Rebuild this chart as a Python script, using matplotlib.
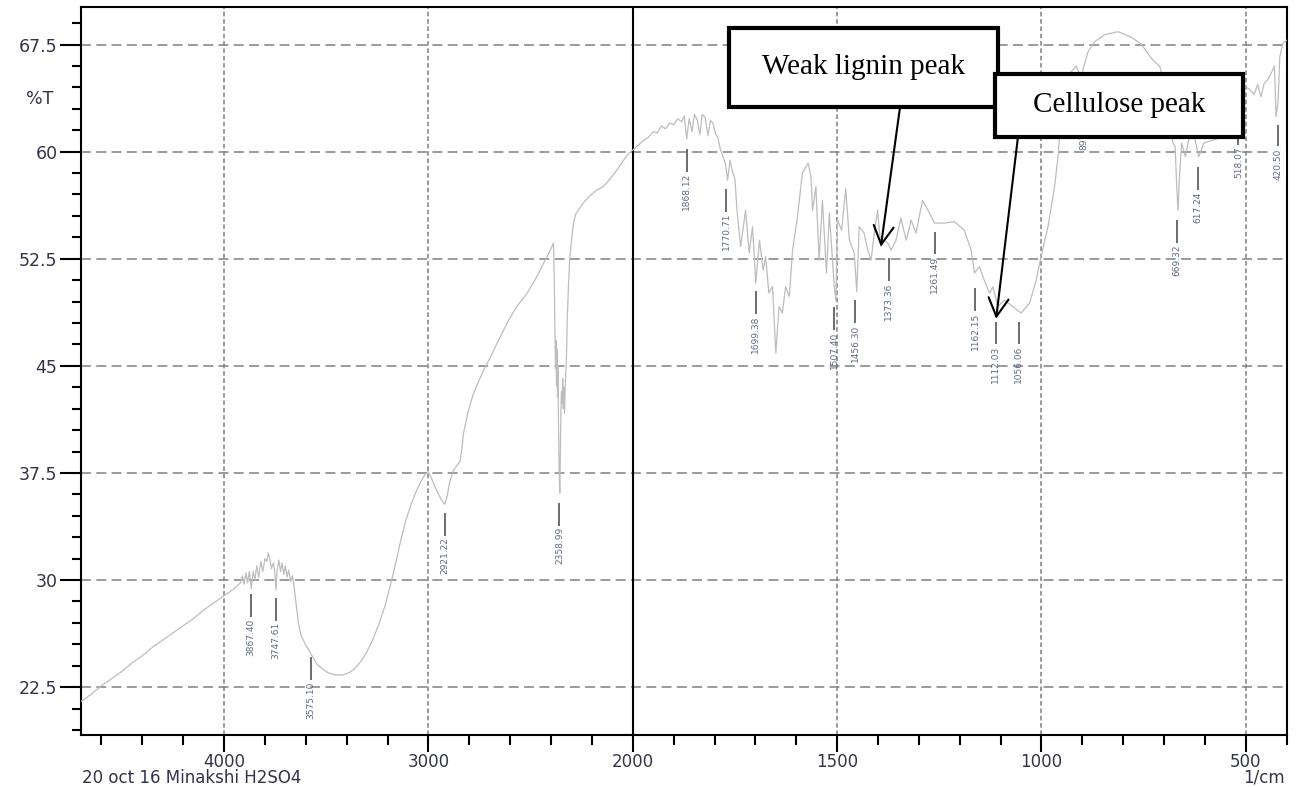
import numpy as np
import matplotlib.pyplot as plt
from matplotlib.patches import Rectangle
from matplotlib.transforms import blended_transform_factory

plt.rcParams['font.family'] = ['DejaVu Sans']

# FTIR trace: wavenumber (1/cm) and transmittance (%T)
wavenumber = [
    4700, 4650, 4600, 4550, 4500, 4450, 4400, 4350, 4300, 4250, 4200, 4150, 4100, 4050, 4000,
    3960, 3935, 3920, 3910, 3902, 3893, 3885, 3876, 3867, 3858, 3849, 3840, 3830, 3820, 3810,
    3800, 3790, 3784, 3776, 3768, 3758, 3752, 3746, 3740, 3732, 3724, 3716, 3708, 3700, 3692,
    3684, 3674, 3666, 3658, 3648, 3636, 3625, 3612, 3600, 3588, 3578, 3565, 3545, 3520, 3490,
    3455, 3420, 3390, 3360, 3330, 3300, 3270, 3240, 3210, 3185, 3160, 3135, 3110, 3085, 3060,
    3040, 3020, 3003, 2990, 2970, 2950, 2935, 2920, 2908, 2895, 2880, 2862, 2845, 2836, 2828,
    2812, 2796, 2776, 2755, 2730, 2700, 2660, 2615, 2570, 2517, 2475, 2436, 2410, 2388, 2384,
    2381, 2378, 2376, 2373, 2371, 2368, 2366, 2363, 2360, 2357, 2355, 2352, 2349, 2346, 2343,
    2340, 2337, 2334, 2330, 2325, 2320, 2315, 2308, 2300, 2290, 2280, 2262, 2243, 2210, 2178,
    2150, 2128, 2100, 2078, 2050, 2030, 2010, 1998, 1985, 1973, 1962, 1950, 1940, 1930, 1920,
    1910, 1900, 1890, 1880, 1874, 1868, 1862, 1855, 1849, 1842, 1836, 1830, 1823, 1816, 1810,
    1804, 1798, 1792, 1786, 1779, 1773, 1768, 1762, 1756, 1750, 1745, 1736, 1724, 1715, 1707,
    1699, 1690, 1681, 1675, 1667, 1658, 1650, 1642, 1634, 1626, 1617, 1609, 1597, 1585, 1571,
    1564, 1560, 1552, 1544, 1536, 1526, 1519, 1507, 1503, 1499, 1489, 1479, 1470, 1458, 1452,
    1446, 1434, 1425, 1417, 1409, 1401, 1393, 1385, 1376, 1368, 1356, 1344, 1331, 1319, 1307,
    1291, 1274, 1262, 1238, 1213, 1189, 1172, 1164, 1152, 1140, 1127, 1119, 1107, 1091, 1070,
    1050, 1029, 1013, 1001, 984, 968, 960, 955, 945, 935, 927, 915, 908, 903, 898,
    886, 870, 845, 812, 779, 755, 730, 710, 695, 685, 678, 673, 669, 666, 662,
    657, 648, 640, 628, 615, 603, 583, 550, 526, 518, 510, 504, 492, 480, 471,
    463, 455, 447, 438, 430, 426, 421, 417, 409, 400,
]
transmittance = [
    21.5, 22.0, 22.6, 23.1, 23.6, 24.2, 24.7, 25.3, 25.8, 26.3, 26.8, 27.3, 27.9, 28.4, 28.9,
    29.3, 29.6, 29.8, 30.3, 29.7, 30.5, 29.8, 30.6, 29.4, 30.6, 30.0, 31.0, 30.2, 31.3, 30.6,
    31.5, 31.3, 31.9, 31.5, 30.8, 31.2, 30.6, 29.3, 30.7, 31.4, 30.6, 31.2, 30.4, 31.0, 30.2,
    30.7, 29.9, 30.3, 29.6, 28.4, 27.0, 26.2, 25.8, 25.4, 25.2, 24.9, 24.6, 24.1, 23.8, 23.5,
    23.35, 23.35, 23.5, 23.8, 24.3, 25.0, 25.9, 27.0, 28.3, 29.7, 31.2, 32.8, 34.2, 35.3, 36.2,
    36.8, 37.3, 37.6, 37.3, 36.6, 36.0, 35.6, 35.3, 35.9, 36.9, 37.6, 38.0, 38.3, 39.2, 40.3,
    41.4, 42.3, 43.2, 43.9, 44.7, 45.5, 46.7, 48.0, 49.1, 50.1, 51.1, 52.2, 52.9, 53.6, 51.0,
    47.5, 44.8, 46.8, 43.6, 46.2, 42.8, 45.0, 40.5, 37.6, 36.1, 38.0, 41.5, 43.2, 42.4, 44.1,
    42.0, 43.5, 41.7, 43.9, 45.3, 48.5, 50.5, 52.6, 53.8, 55.0, 55.6, 56.0, 56.4, 56.9, 57.3,
    57.5, 57.8, 58.3, 58.7, 59.3, 59.7, 60.0, 60.15, 60.5, 60.8, 61.0, 61.4, 61.3, 61.8, 61.6,
    62.0, 61.9, 62.3, 62.1, 62.5, 60.9, 62.3, 61.4, 62.6, 62.2, 61.2, 62.6, 62.4, 61.1, 62.2,
    62.0, 61.3, 61.0, 60.2, 59.6, 59.1, 58.0, 59.4, 58.6, 58.1, 55.9, 53.35, 55.9, 52.9, 54.75,
    50.8, 53.8, 51.7, 52.65, 50.1, 50.55, 45.9, 49.15, 48.7, 50.55, 49.85, 53.1, 55.45, 58.5, 59.2,
    58.25, 55.9, 57.55, 52.4, 56.6, 51.5, 55.7, 50.55, 49.6, 55.2, 54.5, 57.4, 53.8, 52.9, 50.2,
    54.75, 54.3, 53.1, 52.4, 54.3, 55.9, 53.35, 53.8, 53.6, 53.1, 53.8, 55.35, 53.8, 55.2, 54.3,
    56.6, 55.7, 55.0, 55.0, 55.1, 54.5, 53.1, 51.5, 51.95, 51.0, 50.1, 50.55, 49.15, 49.6, 49.15,
    48.7, 49.4, 51.0, 52.65, 54.75, 57.55, 59.5, 61.3, 63.2, 64.5, 65.6, 66.0, 65.5, 64.8, 65.8,
    67.0, 67.7, 68.2, 68.4, 68.0, 67.5, 66.5, 65.95, 64.0, 61.5, 60.6, 60.35, 57.5, 55.9, 58.5,
    60.6, 59.65, 60.8, 61.3, 59.65, 60.6, 60.8, 61.05, 61.3, 62.0, 63.0, 64.6, 64.4, 64.0, 64.7,
    63.85, 64.8, 65.0, 65.5, 66.0, 62.45, 63.5, 66.65, 67.6, 67.8,
]

# picked peaks and the %T at each
peak_wn = [3867.40, 3747.61, 3575.10, 2921.22, 2358.99, 1868.12, 1770.71, 1699.38, 1507.40, 1456.30,
           1373.36, 1261.49, 1162.15, 1112.03, 1056.06, 897.33, 669.32, 617.24, 518.07, 420.50]
peak_T = [29.6, 29.35, 25.2, 35.3, 36.0, 60.8, 58.0, 50.85, 49.7, 50.2,
          53.15, 55.0, 51.05, 48.7, 48.7, 64.6, 55.8, 59.5, 62.7, 62.5]

x_major = [4000, 3000, 2000, 1500, 1000, 500]
x_major_labels = ['4000', '3000', '2000', '1500', '1000', '500']
x_minor = [4600, 4400, 4200, 3800, 3600, 3400, 3200, 2800, 2600, 2400, 2200,
           1900, 1800, 1700, 1600, 1400, 1300, 1200, 1100, 900, 800, 700, 600, 400]
y_major = [22.5, 30, 37.5, 45, 52.5, 60, 67.5]
y_major_labels = ['22.5', '30', '37.5', '45', '52.5', '60', '67.5']
y_minor = np.arange(19.5, 70, 1.5)


# axis is expanded 2x below 2000 1/cm
def fwd(x):
    x = np.asarray(x, dtype=float)
    return np.where(x >= 2000, x, 2 * x - 2000)


def inv(u):
    u = np.asarray(u, dtype=float)
    return np.where(u >= 2000, u, (u + 2000) / 2)


fig = plt.figure(figsize=(12.98, 7.87), dpi=100)
ax = fig.add_axes([0.0624, 0.0661, 0.9289, 0.9250])
ax.set_xscale('function', functions=(fwd, inv))
ax.set_xlim(4700, 400)
ax.set_ylim(19.15, 70.13)

# grid
for v in [4000, 3000, 1500, 1000, 500]:
    ax.axvline(v, color='#808080', lw=1.1, ls=(0, (3, 1.8)), zorder=1)
for h in y_major:
    ax.axhline(h, color='#808080', lw=1.1, ls=(0, (6.5, 3.5)), zorder=1)
ax.axvline(2000, color='black', lw=1.5, zorder=2)

ax.plot(wavenumber, transmittance, color='#bdbdbd', lw=0.9, zorder=3)

# peak markers and labels
peak_T = np.array(peak_T)
ax.vlines(peak_wn, peak_T - 2.2, peak_T - 0.6, color='#606060', lw=1.3, zorder=3)
for w, t in zip(peak_wn, peak_T):
    txt = ax.text(w, t - 2.3, f'{w:.2f}', rotation=90, ha='center', va='top',
                  fontsize=6.5, color='#5f6a86', zorder=4)
    if w < 450:
        txt.set_bbox(dict(facecolor='white', edgecolor='none', pad=2))

# ticks
ax.set_xticks(x_major)
ax.set_xticklabels(x_major_labels)
ax.set_xticks(x_minor, minor=True)
ax.set_xticklabels([], minor=True)
ax.set_yticks(y_major)
ax.set_yticklabels(y_major_labels)
ax.set_yticks(y_minor, minor=True)
ax.tick_params(axis='x', which='major', length=12, width=1.5, pad=1,
               labelsize=12, labelcolor='#33334a')
ax.tick_params(axis='x', which='minor', length=7, width=1.5)
ax.tick_params(axis='y', which='major', length=15, width=1.5, pad=2,
               labelsize=12.5, labelcolor='#33334a')
ax.tick_params(axis='y', which='minor', length=6.5, width=1.5)
for s in ax.spines.values():
    s.set_linewidth(1.5)
    s.set_color('black')

trans = blended_transform_factory(ax.transAxes, ax.transData)
ax.text(-0.023, 63.7, '%T', transform=trans, ha='right', va='center',
        fontsize=12.5, color='#33334a')
fig.text(0.99, 0.0051, '1/cm', ha='right', va='baseline', fontsize=12, color='#33334a')
fig.text(0.063, 0.0051, '20 oct 16 Minakshi H2SO4', ha='left', va='baseline',
         fontsize=12, color='#33334a')

# callout boxes
boxes = [
    ('Weak lignin peak', (0.5375, 0.8626), 0.2231, 0.1086, (0.6793, 0.8626), (1393, 53.35)),
    ('Cellulose peak', (0.7581, 0.8214), 0.2057, 0.0866, (0.7771, 0.8214), (1111, 48.3)),
]
for label, (x0, y0), w, h, start, tip in boxes:
    ax.add_patch(Rectangle((x0, y0), w, h, transform=ax.transAxes, facecolor='white',
                           edgecolor='black', lw=3, joinstyle='miter', clip_on=False, zorder=5))
    ax.text(x0 + w / 2, y0 + h / 2, label, transform=ax.transAxes, ha='center', va='center',
            fontsize=21, family='Liberation Serif', color='black', zorder=6)
    ax.annotate('', xy=tip, xycoords='data', xytext=start, textcoords='axes fraction',
                arrowprops=dict(arrowstyle='->,head_length=0.55,head_width=0.3', lw=1.5,
                                color='black', shrinkA=0, shrinkB=0, mutation_scale=24),
                zorder=6)

fig.savefig('out.png', dpi=100)
